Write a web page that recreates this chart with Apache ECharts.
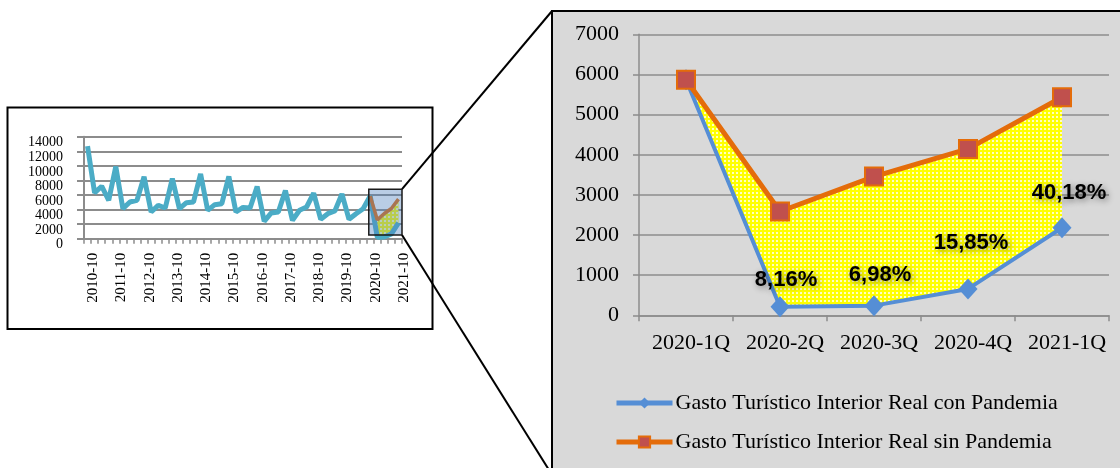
<!DOCTYPE html>
<html><head><meta charset="utf-8">
<script src="https://cdn.jsdelivr.net/npm/echarts@6/dist/echarts.min.js"></script>
<style>html,body{margin:0;padding:0;background:#fff;}#c{width:1120px;height:468px;}</style>
</head><body><div id="c"></div>
<script>
// ---- data ----
const smallCats = [
 "2010-1Q","2010-2Q","2010-3Q","2010-4Q","2011-1Q","2011-2Q","2011-3Q","2011-4Q",
 "2012-1Q","2012-2Q","2012-3Q","2012-4Q","2013-1Q","2013-2Q","2013-3Q","2013-4Q",
 "2014-1Q","2014-2Q","2014-3Q","2014-4Q","2015-1Q","2015-2Q","2015-3Q","2015-4Q",
 "2016-1Q","2016-2Q","2016-3Q","2016-4Q","2017-1Q","2017-2Q","2017-3Q","2017-4Q",
 "2018-1Q","2018-2Q","2018-3Q","2018-4Q","2019-1Q","2019-2Q","2019-3Q","2019-4Q",
 "2020-1Q","2020-2Q","2020-3Q","2020-4Q","2021-1Q"];
const smallTickLabels = ["2010-10","2011-10","2012-10","2013-10","2014-10","2015-10",
 "2016-10","2017-10","2018-10","2019-10","2020-10","2021-10"];
// quarterly history up to 2019-4Q
const history = [12700,6300,7200,5270, 9900,4120,5040,5270, 8500,3660,4580,4210,
 8250,4120,4950,5040, 8900,3890,4670,4810, 8550,3660,4300,4210, 7150,2380,3530,3660,
 6600,2520,3900,4350, 6250,2660,3430,3800, 6150,2660,3430,4120];
const mainCats = ["2020-1Q","2020-2Q","2020-3Q","2020-4Q","2021-1Q"];
const conPandemia = [5866, 211, 241, 657, 2182];
const sinPandemia = [5866, 2585, 3455, 4145, 5431];
const pctLabels = ["", "8,16%", "6,98%", "15,85%", "40,18%"];
const labelOffsets = [[0,0],[6,-27],[6,-31],[3,-46],[7,-35]];
const yTicksSmall = {min:0, max:14000, interval:2000};
const yTicksMain = {min:0, max:7000, interval:1000};
const NAME_CON = 'Gasto Turístico Interior Real con Pandemia';
const NAME_SIN = 'Gasto Turístico Interior Real sin Pandemia';

// ---- derived series ----
const pad = history.map(() => null);
const smallLine = history.concat(conPandemia);
const smallBase = pad.concat(conPandemia);
const smallOrange = pad.concat(sinPandemia);
const bandDiff = sinPandemia.map((v, i) => v - conPandemia[i]);
const smallBand = pad.concat(bandDiff);

// yellow dotted pattern
const pc = document.createElement('canvas'); pc.width = 4; pc.height = 4;
const g = pc.getContext('2d');
g.fillStyle = '#ffff00'; g.fillRect(0,0,4,4);
g.fillStyle = '#ffffc0'; g.fillRect(0,0,2,2);
const pattern = {image: pc, repeat: 'repeat'};

const SERIF = "'Liberation Serif', 'Times New Roman', serif";
const GRAY = '#8c8c8c';
const plain = v => String(v);

const legendBase = {
  left: 609, itemWidth: 56, itemHeight: 14, selectedMode: false,
  lineStyle: {width: 5},
  textStyle: {fontFamily: SERIF, fontSize: 22, color: '#000', padding:[0,0,0,-2]}
};

const chart = echarts.init(document.getElementById('c'), null, {renderer: 'canvas'});
const option = {
  animation: false,
  graphic: [
    {type:'rect', id:'smallBg', z:-10, shape:{x:7.5, y:107.5, width:425, height:221.5},
     style:{fill:'#fff', stroke:'#000', lineWidth:2}},
    {type:'rect', id:'mainBg', z:-10, shape:{x:552, y:11, width:600, height:480},
     style:{fill:'#d9d9d9', stroke:'#000', lineWidth:2}}
  ],
  grid: [
    {left:84, top:136.7, width:318, height:102},
    {left:639, top:34.3, width:470, height:281}
  ],
  legend: [
    Object.assign({}, legendBase, {data:[NAME_CON], top: 387}),
    Object.assign({}, legendBase, {data:[NAME_SIN], top: 426})
  ],
  xAxis: [
    {type:'category', gridIndex:0, data: smallCats, boundaryGap:true,
     axisLine:{lineStyle:{color:GRAY, width:2}},
     axisTick:{show:true, interval:0, length:5, lineStyle:{color:GRAY, width:1.5}},
     axisLabel:{interval:0, rotate:90, fontFamily:SERIF, fontSize:15, color:'#000', margin:14,
       verticalAlign:'top', lineHeight:11,
       formatter:(v, i) => (i % 4 === 0 ? smallTickLabels[i/4] : '')}},
    {type:'category', gridIndex:1, data: mainCats, boundaryGap:true,
     axisLine:{lineStyle:{color:GRAY, width:1.5}},
     axisTick:{show:true, interval:0, length:6, lineStyle:{color:GRAY, width:1.5}},
     axisLabel:{interval:0, fontFamily:SERIF, fontSize:22, color:'#000', margin:17, padding:[0,0,0,10]}}
  ],
  yAxis: [
    {type:'value', gridIndex:0, min:yTicksSmall.min, max:yTicksSmall.max, interval:yTicksSmall.interval,
     axisLine:{show:true, lineStyle:{color:GRAY, width:2}},
     axisTick:{show:true, length:7, lineStyle:{color:GRAY, width:2}},
     splitLine:{lineStyle:{color:GRAY, width:2}},
     axisLabel:{fontFamily:SERIF, fontSize:14, color:'#000', margin:21,
       verticalAlign:'top', lineHeight:12,
       showMinLabel:true, showMaxLabel:true, hideOverlap:false, formatter: plain}},
    {type:'value', gridIndex:1, min:yTicksMain.min, max:yTicksMain.max, interval:yTicksMain.interval,
     axisLine:{show:true, lineStyle:{color:GRAY, width:1.5}},
     axisTick:{show:true, length:6, lineStyle:{color:GRAY, width:1.5}},
     splitLine:{lineStyle:{color:GRAY, width:1.5}},
     axisLabel:{fontFamily:SERIF, fontSize:22, color:'#000', margin:20,
       showMinLabel:true, showMaxLabel:true, formatter: plain}}
  ],
  series: [
    // small chart
    {name:'sBase', type:'line', xAxisIndex:0, yAxisIndex:0, stack:'sb', data:smallBase,
     symbol:'none', lineStyle:{opacity:0}, z:1, silent:true},
    {name:'sBand', type:'line', xAxisIndex:0, yAxisIndex:0, stack:'sb', data:smallBand,
     symbol:'none', lineStyle:{opacity:0}, areaStyle:{color:pattern, opacity:1}, z:1, silent:true},
    {name:'sHist', type:'line', xAxisIndex:0, yAxisIndex:0, data:smallLine,
     symbol:'none', lineStyle:{color:'#4bacc6', width:5}, z:3},
    {name:'sSin', type:'line', xAxisIndex:0, yAxisIndex:0, data:smallOrange,
     symbol:'none', lineStyle:{color:'#e46c0a', width:3.5}, z:3},
    // main chart
    {name:'mBase', type:'line', xAxisIndex:1, yAxisIndex:1, stack:'mb', data:conPandemia,
     symbol:'none', lineStyle:{opacity:0}, z:1, silent:true},
    {name:'mBand', type:'line', xAxisIndex:1, yAxisIndex:1, stack:'mb', data:bandDiff,
     symbol:'none', lineStyle:{opacity:0}, areaStyle:{color:pattern, opacity:1}, z:1, silent:true},
    {name:NAME_CON, type:'line', xAxisIndex:1, yAxisIndex:1,
     data: conPandemia.map((v, i) => ({value:v,
       label:{show: pctLabels[i] !== '', formatter: pctLabels[i], offset: labelOffsets[i]}})),
     symbol:'diamond', symbolSize:[19,21],
     lineStyle:{color:'#558ed5', width:4}, itemStyle:{color:'#558ed5'},
     label:{position:'inside', fontFamily:"'Liberation Sans', Arial, sans-serif", fontWeight:'bold',
       fontSize:22, color:'#000', textShadowColor:'rgba(0,0,0,0.45)', textShadowBlur:6,
       textShadowOffsetX:2, textShadowOffsetY:2},
     z:4},
    {name:NAME_SIN, type:'line', xAxisIndex:1, yAxisIndex:1,
     data: sinPandemia, symbol:'rect', symbolSize:18,
     lineStyle:{color:'#e46c0a', width:5},
     itemStyle:{color:'#c0504d', borderColor:'#e46c0a', borderWidth:2},
     z:5}
  ]
};
chart.setOption(option);

// zoom box and connector lines, positioned through the small chart's scales
const p40 = chart.convertToPixel({xAxisIndex:0, yAxisIndex:0}, ['2020-1Q', 6800]);
const p44 = chart.convertToPixel({xAxisIndex:0, yAxisIndex:0}, ['2021-1Q', 500]);
const p39 = chart.convertToPixel({xAxisIndex:0, yAxisIndex:0}, ['2019-4Q', 0]);
const band = p40[0] - p39[0];
const bx0 = p40[0] - band * 0.2, bx1 = p44[0] + band * 0.5;
const by0 = p40[1], by1 = p44[1];
chart.setOption({graphic: [
  {type:'rect', id:'zoomBox', z:50, shape:{x:bx0, y:by0, width:bx1-bx0, height:by1-by0},
   style:{fill:'rgba(79,129,189,0.4)', stroke:'#1a1a1a', lineWidth:1.5}},
  {type:'line', id:'conTop', z:50, shape:{x1:bx1, y1:by0, x2:552, y2:11},
   style:{stroke:'#000', lineWidth:2}},
  {type:'line', id:'conBot', z:50, shape:{x1:bx1, y1:by1, x2:549, y2:470},
   style:{stroke:'#000', lineWidth:2}}
]});
</script></body></html>
